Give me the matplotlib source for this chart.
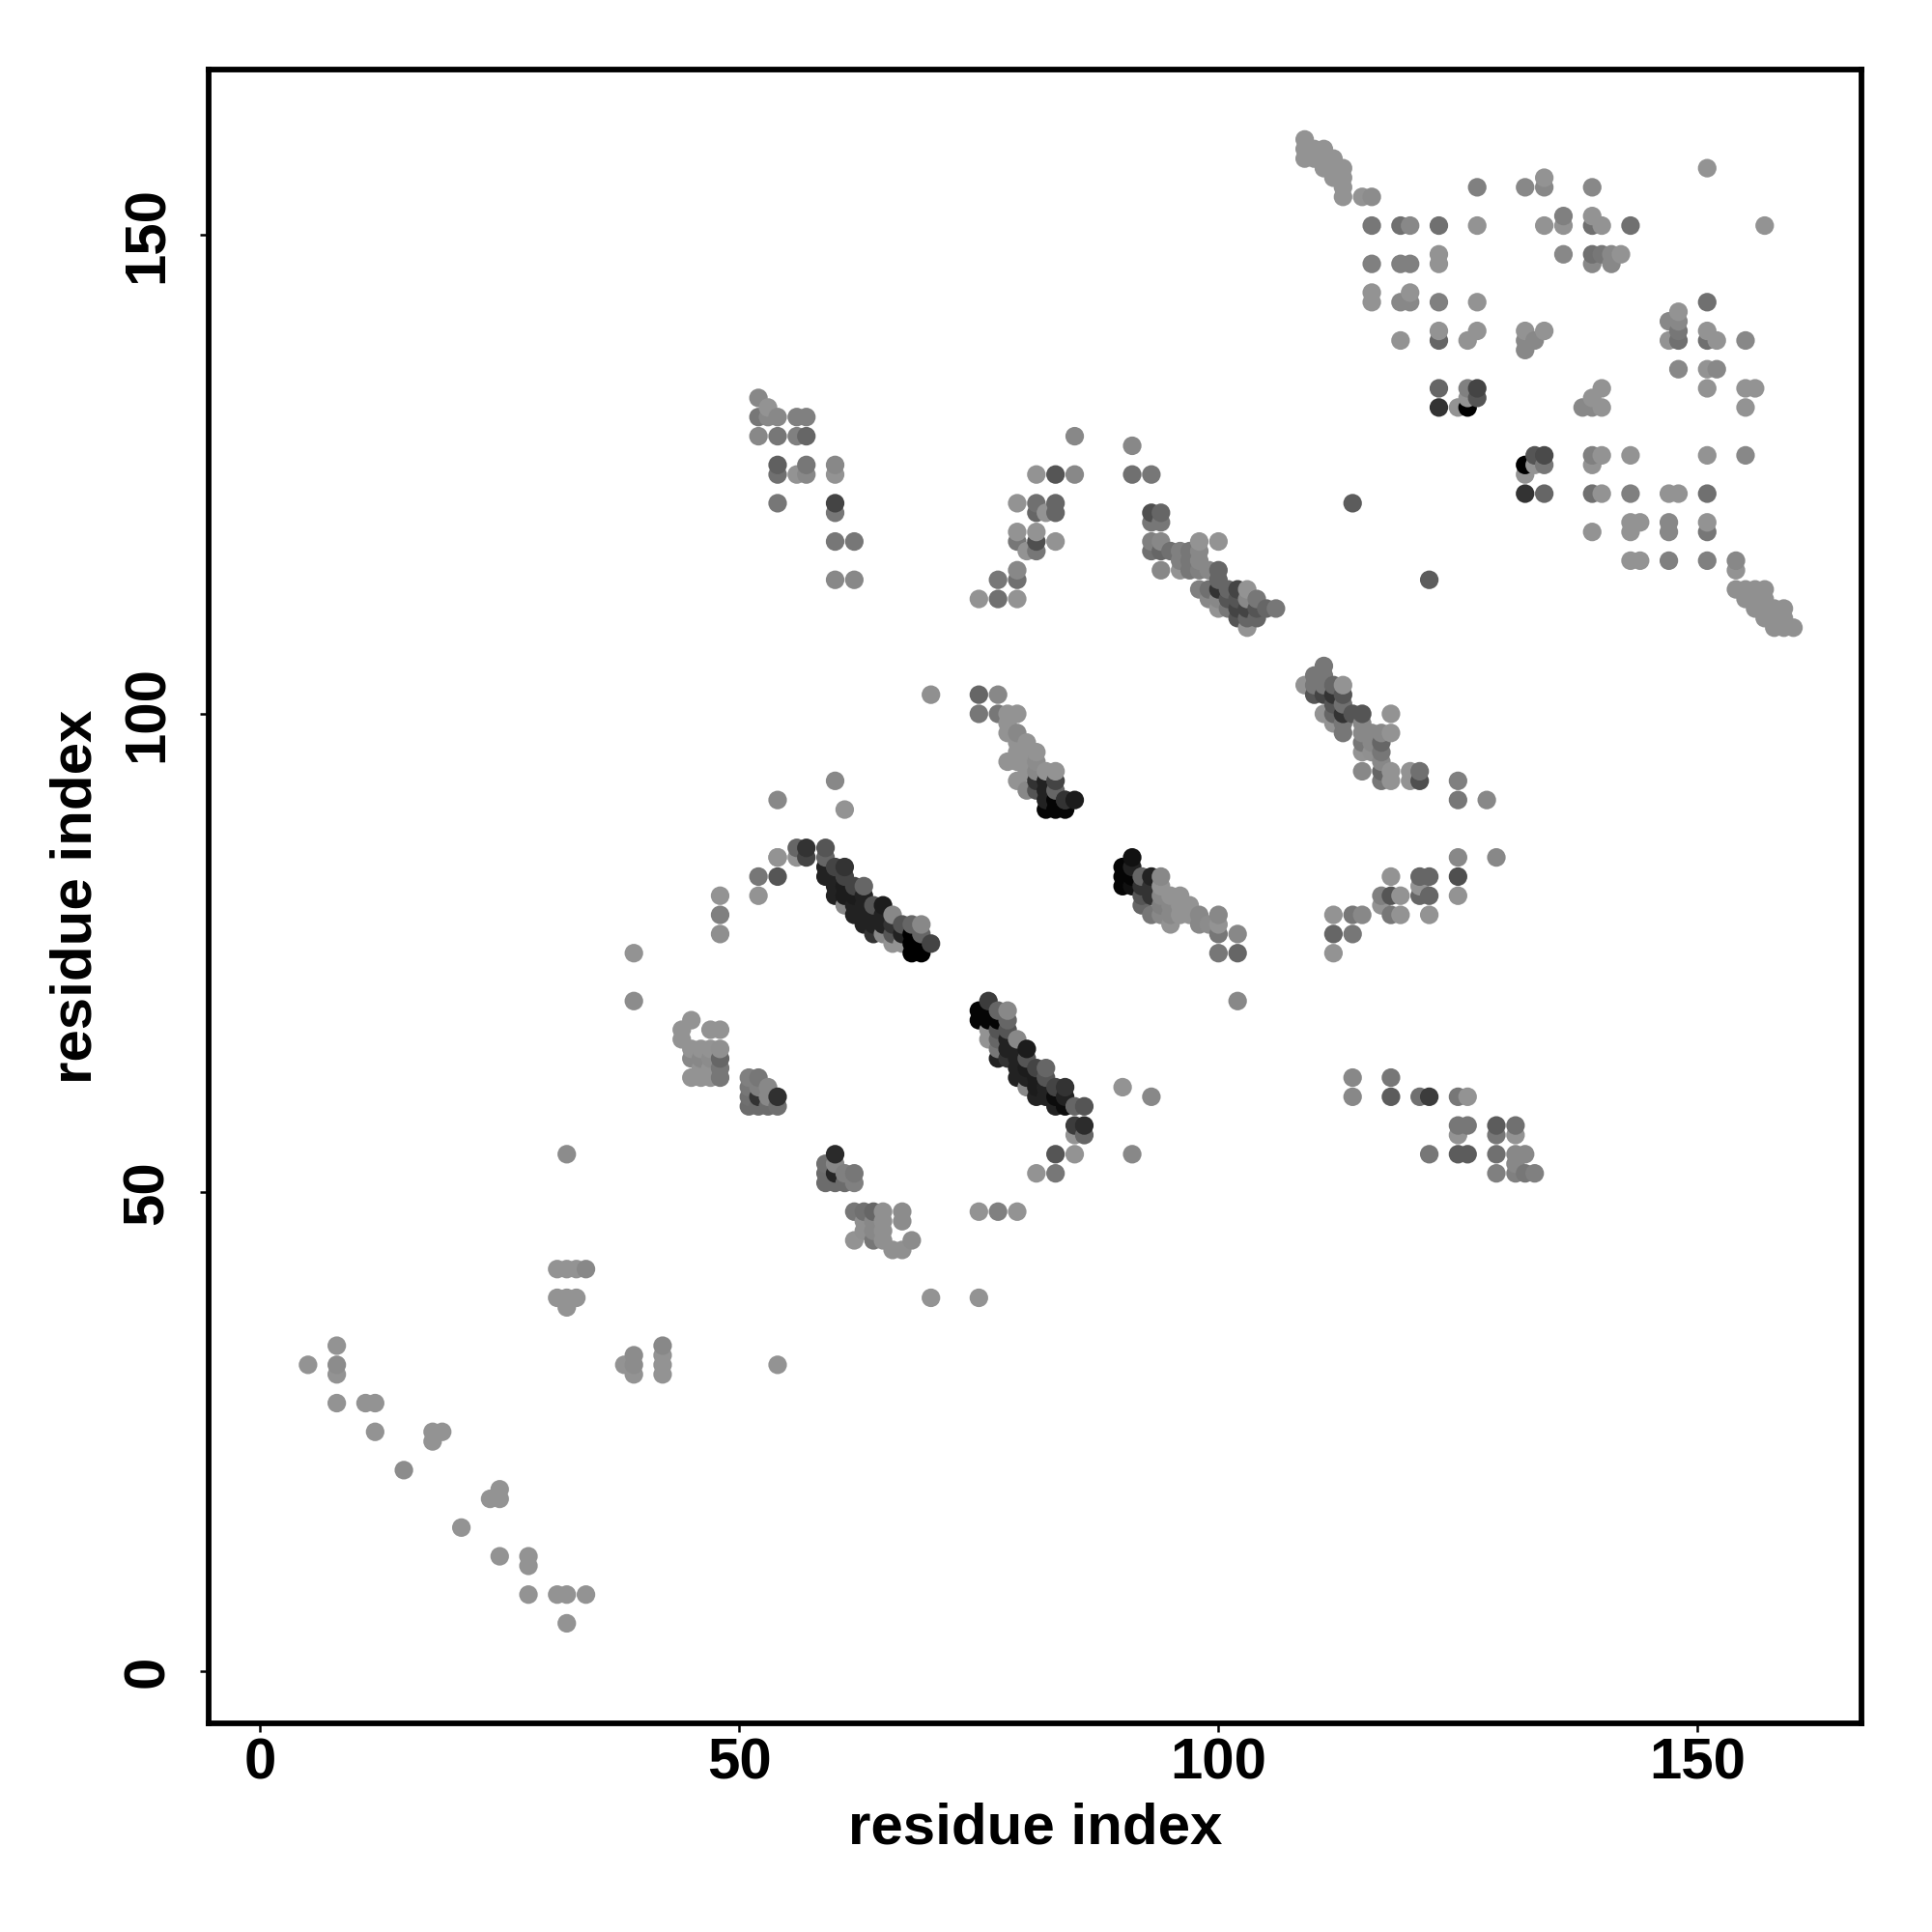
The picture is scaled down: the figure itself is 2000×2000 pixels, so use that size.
import numpy as np
import matplotlib
matplotlib.use("Agg")
import matplotlib.pyplot as plt

L = 0x93
# N-terminal scatter
tail_x = [5,8,8,8,8,11,12,12,18,19,18,15,25,24,25,21,25,28,28,28,31,32,34,32,31,32,33,34,31,32,33,32,38,39,39,39,42,42,42,42,54,32,39,39]
tail_y = [32,34,32,31,28,28,28,25,25,25,24,21,19,18,18,15,12,12,11,8,8,8,8,5,42,42,42,42,39,39,39,38,32,33,32,31,34,33,32,31,32,54,75,70]
tail_g = [L,L,0x8c,L,L,L,L,L,L,L,L,0x8c,L,L,L,L,L,L,L,L,L,L,L,L,L,L,L,0x88,L,L,L,L,L,0x8c,0x8c,L,0x88,L,L,L,L,0x8c,L,0x8c]

b_x = [45,44,44,47,48,45,46,47,48,45,46,47,48,46,47,48,45,46,47,48]
b_y = [68,67,66,67,67,65,65,65,65,64,64,64,64,63,63,63,62,62,62,62]
b_g = [L,L,L,L,L,L,L,L,0x90,0x88,0x88,0x8c,0x66,L,L,0x77,L,L,L,0x77]

c_x = [51,52,51,52,53,51,52,53,54,51,52,53,54]
c_y = [62,62,61,61,61,60,60,60,60,59,59,59,59]
c_g = [0x80,0x77,0x77,0x80,0x88,0x70,0x33,0x88,0x30,0x6c,0x6c,0x6c,0x70]

d_x = [60,59,60,59,60,61,62,59,60,61,62]
d_y = [54,53,53,52,52,52,52,51,51,51,51]
d_g = [0x2a,0x70,0x88,0x6c,0x25,0x80,0x77,0x6c,0x6c,0x6c,0x80]

e_x = [62,63,64,65,67,67,63,64,65,63,64,65,62,64,65,68,66,67]
e_y = [48,48,48,48,48,47,47,47,47,46,46,46,45,45,45,45,44,44]
e_g = [0x77,0x70,0x66,0x90,0x8c,0x8c,0x90,0x88,0x90,0x90,0x88,0x90,L,0x77,0x90,0x8c,0x90,0x90]

f_x = [48,48,48,52,52,54,54,54,54,60,61,
       56,56,57,57,59,59,59,59,60,60,60,60,61,61,61,61,61,62,62,62,62,63,63,63,63,63,
       64,64,64,64,65,65,65,65,66,66,66,66,67,67,67,68,68,68,68,69,69,69,69,70]
f_y = [81,79,77,83,81,91,85,83,85,93,90,
       86,85,86,85,86,85,84,83,84,83,82,81,84,83,82,81,80,82,81,80,79,82,81,80,79,78,
       80,79,78,77,80,79,78,77,79,78,77,76,78,77,76,78,77,76,75,78,77,76,75,76]
f_g = [L,0x80,0x8f,0x77,L,0x88,L,0x55,L,0x88,L,
       0x66,L,0x33,0x44,0x55,0x66,0x22,0x22,0x44,0x22,0x22,0x22,0x33,0x44,0x1c,0x1c,0x88,0x44,0x1c,0x22,0x22,0x66,0x22,0x22,0x22,0x22,
       0x55,0x22,0x22,0x33,0x1c,0x22,0x22,0x88,0x88,0x33,0x55,L,0x55,0x22,L,0x66,0x00,0x00,0x00,0x88,0x66,0x00,0x00,0x44]

g_x = [75,75,76,76,76,76,76,77,77,77,77,77,77,78,78,78,78,78,78,79,79,79,79,79,80,80,80,80,80,
       81,81,81,81,82,82,82,82,83,83,83,84,84,84,85,86,85,86,85,86,83,85,81,83,91,90,93,75,77,79,70,75]
g_y = [69,68,70,69,68,67,66,69,68,67,66,65,64,69,68,67,66,65,64,66,65,64,63,62,65,64,63,62,61,
       63,62,61,60,63,62,61,60,61,60,59,61,60,59,59,59,57,57,56,56,54,54,52,52,54,61,60,48,48,48,39,39]
g_g = [0x05,0x05,0x3c,0x05,0x05,L,L,0x66,0x05,0x55,0x66,0x77,0x22,0x88,0x66,0x55,0x22,0x22,0x33,0x88,0x22,0x22,0x22,0x22,0x1c,0x55,0x1c,0x22,0x88,
       0x44,0x1c,0x1c,0x22,0x66,0x55,0x22,0x22,0x44,0x0c,0x22,0x33,0x22,0x0c,0x66,0x55,0x3c,0x2c,0x93,0x66,0x55,L,L,0x77,0x88,L,0x88,L,0x80,L,L,L]

h_x = [70,75,77,75,77,78,79,78,78,79,80,81,79,80,79,80,81,78,79,80,81,82,83,81,79,82,83,80,81,82,83,84,85,82,83,84,82,83,84]
h_y = [102,102,102,100,100,100,100,99,98,98,97,96,97,96,96,95,95,95,95,94,94,94,94,93,93,93,93,92,92,92,92,91,91,91,91,91,90,90,90]
h_g = [0x90,0x66,0x88,0x77,0x77,L,L,L,L,0x88,L,L,L,L,L,L,0x8c,L,L,L,0x88,L,L,0x33,L,0x22,0x44,0x88,0x55,0x22,0x66,0x33,0x1c,0x22,0x05,0x33,0x05,0x05,0x05]
h_y[30] = 92

i_x = [91,90,90,90,91,91,91,92,92,92,92,93,93,93,93,94,94,94,94,94,95,95,95,95,96,96,96,97,97,98,98,99,100,100,100,100,102,102,102]
i_y = [85,84,83,82,84,83,82,83,82,81,80,83,82,81,79,83,82,81,80,79,81,80,79,78,81,80,79,80,79,79,78,78,79,78,77,75,77,75,70]
i_g = [0x11,0x05,0x05,0x05,0x22,0x05,0x11,0x66,0x33,0x55,0x66,0x22,0x33,0x33,0x77,0x88,L,0x88,0x80,0x88,L,0x88,0x88,L,L,L,L,L,L,0x88,0x88,0x8c,0x88,L,0x77,0x77,0x88,0x66,0x88]

j_x = [112,114,115,112,114,112,118,117,118,119,117,118,119,121,122,121,121,122,122,125,125,125,129,
       114,114,118,118,121,122,125,126,125,126,125,129,129,131,131,122,125,126,129,131,132,131,129,131,132,133,125,125,128]
j_y = [79,79,79,77,77,75,83,81,81,81,80,79,79,83,83,82,81,81,79,85,83,81,85,
       62,60,62,60,60,60,60,60,57,57,56,57,56,57,56,54,54,54,54,54,54,53,52,52,52,52,93,91,91]
j_g = [L,0x77,0x88,0x66,0x77,L,L,0x80,0x55,L,L,0x77,L,0x66,0x66,L,0x66,0x66,L,0x88,0x4f,L,0x88,
       0x88,0x88,0x77,0x5c,0x70,0x3c,0x77,L,0x77,0x77,L,0x5c,0x77,0x70,L,0x77,0x5c,0x5c,0x70,0x88,0x88,0x88,0x80,0x80,0x77,0x80,0x80,0x77,0x88]

k_x = [111,109,110,111,110,111,112,113,110,111,112,113,111,112,113,112,113,114,115,118,112,113,115,113,115,116,117,118,
       115,116,117,115,116,117,117,115,117,118,117,118,120,121,120,121]
k_y = [105,103,104,104,103,103,103,103,102,102,102,102,100,101,101,100,100,100,100,100,99,99,99,98,98,98,98,98,
       97,97,97,96,96,96,95,94,94,94,93,93,94,94,93,93]
k_g = [0x77,L,0x77,0x77,0x77,0x77,0x66,L,0x55,0x44,0x33,0x55,L,0x55,0x70,0x66,0x33,0x55,0x55,L,L,0x77,0x88,0x77,0x88,0x88,0x88,L,
       0x77,0x88,0x66,L,0x90,0x77,0x88,0x88,0x66,L,0x77,L,L,0x70,L,0x4f]

m_x = [109,109,109,110,110,111,111,111,112,112,112,113,113,113,113,115,116,
       116,119,120,123,116,119,120,123,123,116,116,119,120,120,123,119,123,123,123,123,
       85,91,81,83,85,91,93,79,81,83,81,82,83,79,79,81,81,83,80,81,79,77,79,75,77,79,114,122]
m_y = [160,159,158,159,158,159,158,157,158,157,156,157,156,155,154,154,154,
       151,151,151,151,147,147,147,148,147,144,143,143,144,143,143,139,140,139,134,132,
       129,128,125,125,125,125,125,122,122,122,121,121,121,119,118,119,118,118,117,117,115,114,114,112,112,112,122,114]
m_g = [L,L,L,L,L,L,L,L,L,L,L,L,L,L,L,L,0x8c,
       0x77,0x70,0x88,0x70,0x80,0x80,0x80,L,L,L,L,0x88,L,0x88,0x80,L,L,0x66,0x66,0x33,
       0x88,0x88,L,0x55,0x88,0x70,0x77,L,0x70,0x66,0x66,L,0x66,L,0x77,L,0x4f,L,L,0x77,0x88,0x77,0x70,L,0x70,L,0x5c,0x5c]

n_x = [93,94,93,94,93,94,93,94,95,94,96,97,98,100,98,98,96,97,96,97,98,99,100,100,
       98,99,100,101,102,103,99,100,101,102,103,104,100,101,102,103,104,105,106,102,103,104,103]
n_y = [121,121,120,120,118,118,117,117,117,115,117,117,118,118,117,116,116,116,115,115,115,115,115,114,
       113,113,113,113,113,113,112,112,112,112,112,112,111,111,111,111,111,111,111,110,110,110,109]
n_g = [0x4f,0x66,0x77,0x77,0x80,0x88,0x70,0x66,0x70,0x88,0x80,0x77,L,L,0x88,0x88,0x80,0x77,L,0x77,0x80,0x88,0x66,0x66,
       0x80,0x70,0x33,0x66,0x44,L,0x88,0x88,0x55,0x55,0x88,0x77,L,0x77,0x44,0x44,0x55,0x66,0x77,0x55,0x66,0x66,L]

p_x = [52,53,52,53,54,52,54,56,57,56,57,54,54,56,57,57,54,60,60,60,60,60,62,60,62]
p_y = [133,132,131,131,131,129,129,131,131,129,129,126,125,125,126,125,122,126,125,122,121,118,118,114,114]
p_g = [0x88,L,0x77,0x88,0x88,0x88,0x77,0x80,0x80,0x80,0x66,0x60,0x70,L,0x77,0x88,0x77,0x88,L,0x44,0x77,0x77,0x77,0x88,0x88]

q_x = [151,127,132,134,134,139,127,134,136,136,139,139,140,143,157,136,139,140,141,142,139,141,
       127,151,148,147,148,148,151,134,132,127,147,148,151,152,155,126,132,133,132,148,151,152,
       126,127,140,151,155,156,126,127,139,125,126,138,139,140,155]
q_y = [157,155,155,155,156,155,151,151,151,152,152,151,151,151,151,148,148,148,148,148,147,147,
       143,143,142,141,141,140,140,140,140,140,139,139,139,139,139,139,139,139,138,136,136,136,
       134,134,134,134,134,134,133,133,133,132,132,132,132,132,132]
q_g = [L,0x80,0x88,0x88,L,0x88,L,L,L,0x80,L,0x70,L,0x70,L,0x88,0x70,0x77,0x88,L,0x88,0x88,
       L,0x70,L,0x88,0x88,0x77,L,L,L,L,L,0x70,0x70,L,0x88,L,0x88,0x88,0x88,0x88,L,0x88,
       0x80,0x44,L,L,L,L,L,0x55,L,L,0x00,0x88,0x88,L,L]

r_x = [133,134,139,140,143,151,155,132,133,134,139,132,132,134,139,140,143,147,148,151,
       139,143,144,147,151,143,147,151,143,144,147,151,154,154,
       154,155,156,157,155,156,157,156,157,158,159,157,158,159,158,159,160]
r_y = [127,127,127,127,127,127,127,126,126,126,126,125,123,123,123,123,123,123,123,123,
       119,120,120,120,120,119,119,119,116,116,116,116,116,115,
       113,113,113,113,112,112,112,111,111,111,111,110,110,110,109,109,109]
r_g = [0x55,0x4a,0x80,L,L,L,0x88,0x00,L,0x77,L,L,0x33,0x66,0x70,L,0x80,L,L,0x70,
       L,L,L,0x88,L,L,0x88,0x77,L,L,0x80,0x80,0x88,L,
       0x90,0x90,0x90,0x90,0x90,0x90,0x90,0x90,0x90,0x90,0x90,0x90,0x90,0x90,0x90,0x90,0x90]

xs = np.concatenate([tail_x,b_x,c_x,d_x,e_x,f_x,g_x,h_x,i_x,j_x,k_x,m_x,n_x,p_x,q_x,r_x])
ys = np.concatenate([tail_y,b_y,c_y,d_y,e_y,f_y,g_y,h_y,i_y,j_y,k_y,m_y,n_y,p_y,q_y,r_y])
gs = np.concatenate([tail_g,b_g,c_g,d_g,e_g,f_g,g_g,h_g,i_g,j_g,k_g,m_g,n_g,p_g,q_g,r_g])

order = np.lexsort((ys, xs))
xs, ys, gs = xs[order], ys[order], gs[order]
cols = [(v/255, v/255, v/255) for v in gs]

W = 2000
fig = plt.figure(figsize=(10, 10), dpi=200, facecolor="white")
L_, R_, T_, B_ = 216, 1927, 72, 1784
ax = fig.add_axes([L_/W, 1-B_/W, (R_-L_)/W, (B_-T_)/W])
ax.scatter(xs, ys, c=cols, s=48, linewidths=0, zorder=3)
ax.set_xlim(-5.37, 167.1)
ax.set_ylim(-5.45, 167.3)
ticks = [0, 50, 100, 150]
FS = 21.6
ax.set_xticks(ticks)
ax.set_yticks(ticks)
ax.set_xticklabels([str(t) for t in ticks], fontfamily="Liberation Sans", fontweight="bold", fontsize=FS)
ax.set_yticklabels([str(t) for t in ticks], fontfamily="Liberation Sans", fontweight="bold", fontsize=FS,
                   rotation=90, va="center")
ax.tick_params(axis="both", length=3.2, width=0.9, pad=2, color="black")
ax.tick_params(axis="y", pad=9.5)
for sp in ax.spines.values():
    sp.set_linewidth(2.1)
ax.set_xlabel("residue index", fontfamily="Liberation Sans", fontweight="bold", fontsize=FS)
ax.set_ylabel("residue index", fontfamily="Liberation Sans", fontweight="bold", fontsize=FS)
ax.xaxis.set_label_coords(0.5, -(1893-B_)/(B_-T_), transform=ax.transAxes)
ax.xaxis.label.set_verticalalignment("center")
ax.yaxis.set_label_coords(-(L_-79)/(R_-L_), 0.5, transform=ax.transAxes)
ax.yaxis.label.set_verticalalignment("center")
fig.savefig("out.png", dpi=200, facecolor="white")
